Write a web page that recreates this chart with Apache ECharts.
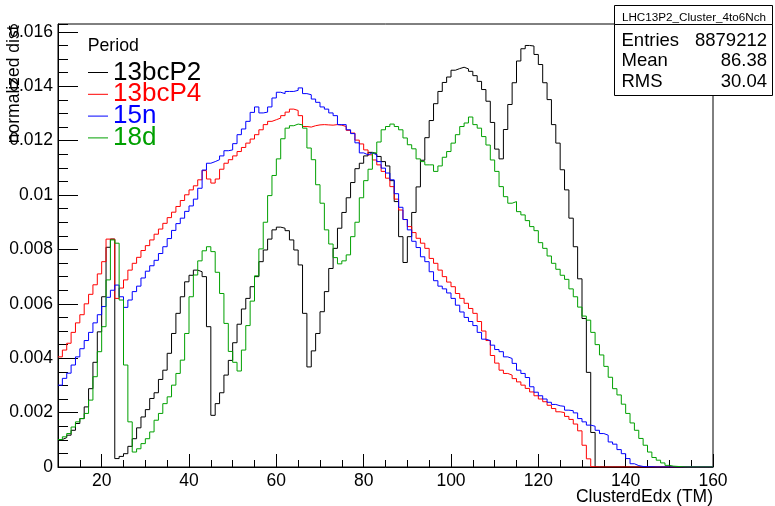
<!DOCTYPE html>
<html><head><meta charset="utf-8">
<script src="https://cdn.jsdelivr.net/npm/echarts@6/dist/echarts.min.js"></script>
<style>html,body{margin:0;padding:0;background:#fff}#c{width:775px;height:506px}</style>
</head><body><div id="c"></div>
<script>
// ---- data (bin contents in units of 1e-3, one value per 1-unit bin starting at 10) ----
const binLow = 10;
const binWidth = 1;
const valueUnit = 1e-3;
const seriesNames = ['13bcP2', '13bcP4', '15n', '18d'];

const v13bcP2 = [
 1.01,1.08,1.17,1.35,1.60,1.78,2.21,2.88,3.85,4.97,
 6.26,8.08,8.38,0.31,0.39,0.49,0.76,1.04,1.44,1.84,
 2.11,2.52,2.73,3.22,3.56,4.18,4.91,5.65,6.26,6.81,
 7.05,7.24,7.18,7.00,5.16,1.90,2.33,2.73,3.38,3.92,
 4.57,5.25,5.81,6.20,6.63,7.00,7.55,7.98,8.38,8.72,
 8.82,8.78,8.69,8.35,7.98,7.43,5.65,3.68,4.27,4.91,
 5.71,6.45,7.30,8.04,8.78,9.36,9.90,10.46,10.97,11.17,
 11.44,11.57,11.52,11.42,11.23,11.07,10.53,9.76,8.47,7.52,
 8.47,9.36,10.30,11.28,12.11,12.74,13.36,13.81,14.14,14.34,
 14.59,14.65,14.70,14.64,14.55,14.39,14.18,13.88,13.45,12.67,
 11.69,11.33,12.41,13.33,14.13,14.93,15.38,15.50,15.48,15.17,
 14.80,14.13,13.51,12.59,11.91,10.93,10.19,9.15,8.10,6.92,
 5.46,3.48,1.27,0,0,0,0,0,0,0,
 0,0,0,0,0,0,0,0,0,0,
 0,0,0,0,0,0,0,0,0,0
];
const v13bcP4 = [
 4.05,4.30,4.55,4.95,5.30,5.60,6.00,6.35,6.70,7.10,
 7.55,8.38,8.38,6.20,6.58,6.88,7.24,7.49,7.71,7.96,
 8.14,8.35,8.56,8.75,8.96,9.17,9.37,9.58,9.80,10.01,
 10.19,10.34,10.56,10.90,10.59,10.44,10.59,10.95,11.17,11.30,
 11.44,11.60,11.75,11.91,12.06,12.22,12.40,12.59,12.71,12.77,
 12.83,12.92,13.05,13.16,13.11,12.92,12.52,12.50,12.55,12.58,
 12.59,12.58,12.57,12.59,12.57,12.52,12.38,12.28,12.02,11.88,
 11.66,11.48,11.29,11.11,10.87,10.62,10.31,9.85,9.45,9.10,
 8.84,8.62,8.41,8.23,8.04,7.67,7.49,7.24,7.00,6.80,
 6.63,6.38,6.20,6.02,5.83,5.65,5.35,5.00,4.65,4.10,
 3.82,3.56,3.44,3.38,3.25,3.13,3.01,2.89,2.76,2.62,
 2.50,2.40,2.27,2.15,2.03,2.00,1.86,1.75,1.58,1.33,
 0.80,0.30,0.01,0,0,0,0,0,0,0,
 0,0,0,0,0,0,0,0,0,0,
 0,0,0,0,0,0,0,0,0,0
];
const v15n = [
 3.01,3.26,3.45,3.75,4.05,4.35,4.65,4.95,5.30,5.60,
 5.90,6.24,6.50,6.69,6.26,5.87,6.14,6.45,6.65,6.95,
 7.20,7.40,7.60,7.85,8.10,8.40,8.70,8.95,9.15,9.40,
 9.60,9.85,10.25,10.92,11.17,11.23,11.30,11.44,11.63,11.66,
 11.89,12.22,12.43,12.71,13.04,13.24,13.02,13.05,13.24,13.57,
 13.78,13.73,13.81,13.81,13.85,13.94,13.73,13.69,13.53,13.41,
 13.24,13.16,13.02,12.92,12.59,12.59,12.40,12.26,11.92,11.55,
 11.48,11.55,11.48,11.23,10.99,10.81,10.56,10.05,9.55,9.10,
 8.72,8.30,8.07,7.73,7.55,7.18,6.85,6.65,6.55,6.40,
 6.20,5.95,5.70,5.50,5.35,5.20,4.95,4.70,4.65,4.48,
 4.32,4.24,4.05,3.99,3.81,3.56,3.44,3.29,2.95,2.75,
 2.62,2.50,2.38,2.30,2.25,2.23,2.09,2.07,1.99,1.78,
 1.66,1.54,1.50,1.35,1.23,1.17,0.92,0.84,0.64,0.49,
 0.31,0.12,0.05,0.02,0.01,0.01,0,0,0,0,
 0,0,0,0,0,0,0,0,0,0
];
const v18d = [
 1.01,1.11,1.23,1.47,1.66,1.78,1.97,2.46,3.32,4.24,
 5.16,6.88,8.35,8.23,6.14,3.75,1.66,0.55,0.67,0.86,
 1.04,1.29,1.72,1.97,2.33,2.58,3.01,3.44,3.93,4.91,
 6.26,7.06,7.58,7.95,8.10,7.92,7.16,6.38,5.28,4.25,
 3.85,3.53,4.30,5.20,6.10,7.03,8.02,9.00,9.98,10.72,
 11.33,12.07,12.46,12.55,12.61,12.58,12.46,11.73,11.30,10.38,
 9.70,8.72,8.20,7.70,7.47,7.58,7.80,8.47,9.00,9.90,
 10.53,10.95,11.55,11.95,12.40,12.52,12.61,12.52,12.40,12.10,
 11.85,11.70,11.33,11.23,11.11,11.11,10.87,11.07,11.39,11.60,
 11.91,12.22,12.52,12.65,12.87,12.59,12.46,12.15,11.84,11.29,
 10.87,10.31,9.94,9.70,9.76,9.39,9.27,9.06,8.84,8.69,
 8.25,8.04,7.76,7.49,7.27,7.05,6.90,6.55,6.26,5.88,
 5.55,5.40,4.95,4.50,4.12,3.70,3.30,2.88,2.65,2.31,
 1.97,1.62,1.35,1.05,0.80,0.55,0.35,0.25,0.15,0.06,
 0.03,0.02,0.01,0,0,0,0,0,0,0
];

const xMin = 10, xMax = 160;
const yMax = 0.01629;
const xTickLabels = [20, 40, 60, 80, 100, 120, 140, 160];
const yTickLabels = [0, 0.002, 0.004, 0.006, 0.008, 0.010, 0.012, 0.014, 0.016];
const xTitle = 'ClusterdEdx (TM)';
const yTitle = 'normalized dist';
const legendTitle = 'Period';
const statsTitle = 'LHC13P2_Cluster_4to6Nch';
const statsNames = ['Entries', 'Mean', 'RMS'];
const statsValues = ['8879212', '86.38', '30.04'];

// ---- styles ----
const FONT = "'Liberation Sans', Arial, Helvetica, sans-serif";
const colors = ['#000000', '#ff0000', '#0000ff', '#00a000'];
const allVals = [v13bcP2, v13bcP4, v15n, v18d];

function toSteps(vals) {
  const d = vals.map((v, i) => [binLow + i * binWidth, v * valueUnit]);
  d.push([binLow + vals.length * binWidth, vals[vals.length - 1] * valueUnit]);
  return d;
}

const chart = echarts.init(document.getElementById('c'), null, {renderer: 'canvas'});
const G = {left: 58, right: 62, top: 24, bottom: 39};

const statsGraphics = [
  {type: 'rect', z: 100, shape: {x: 614.5, y: 5.5, width: 158, height: 19}, style: {fill: '#fff', stroke: '#000', lineWidth: 1}},
  {type: 'rect', z: 100, shape: {x: 614.5, y: 24.5, width: 158, height: 71}, style: {fill: '#fff', stroke: '#000', lineWidth: 1}},
  {type: 'text', z: 101, x: 694, y: 18, style: {text: statsTitle, fontSize: 11.7, fontFamily: FONT, fill: '#000', align: 'center', verticalAlign: 'middle'}}
];
const statsY = [40.5, 61.3, 81.8];
statsNames.forEach((n, i) => {
  statsGraphics.push({type: 'text', z: 101, x: 621.5, y: statsY[i], style: {text: n, fontSize: 18.5, fontFamily: FONT, fill: '#000', align: 'left', verticalAlign: 'middle'}});
  statsGraphics.push({type: 'text', z: 101, x: 767, y: statsY[i], style: {text: statsValues[i], fontSize: 18.5, fontFamily: FONT, fill: '#000', align: 'right', verticalAlign: 'middle'}});
});

const option = {
  animation: false,
  backgroundColor: '#fff',
  grid: {left: G.left, right: G.right, top: G.top, bottom: G.bottom, show: true, borderColor: '#000', borderWidth: 1, backgroundColor: 'transparent', containLabel: false},
  xAxis: [
    {type: 'value', min: xMin, max: xMax, interval: 5, position: 'bottom',
     axisLine: {show: true, onZero: false, lineStyle: {color: '#000', width: 1}},
     axisTick: {show: true, inside: true, length: 7, lineStyle: {color: '#000', width: 1}},
     axisLabel: {show: false}, splitLine: {show: false}},
    {type: 'value', min: xMin, max: xMax, position: 'bottom',
     axisLine: {show: false, onZero: false},
     axisTick: {show: true, inside: true, length: 13, customValues: xTickLabels, lineStyle: {color: '#000', width: 1}},
     axisLabel: {show: true, customValues: xTickLabels, fontSize: 17.5, fontFamily: FONT, color: '#000', margin: 5},
     splitLine: {show: false}}
  ],
  yAxis: [
    {type: 'value', min: 0, max: yMax, interval: 0.0005, position: 'left',
     axisLine: {show: true, onZero: false, lineStyle: {color: '#000', width: 1}},
     axisTick: {show: true, inside: true, length: 10, lineStyle: {color: '#000', width: 1}},
     axisLabel: {show: false}, splitLine: {show: false}},
    {type: 'value', min: 0, max: yMax, position: 'left',
     axisLine: {show: false, onZero: false},
     axisTick: {show: true, inside: true, length: 20, customValues: yTickLabels, lineStyle: {color: '#000', width: 1}},
     axisLabel: {show: true, customValues: yTickLabels, fontSize: 17.5, fontFamily: FONT, color: '#000', margin: 5,
       formatter: v => (v === 0 ? '0' : String(+(+v).toFixed(4)))},
     splitLine: {show: false}}
  ],
  legend: {
    orient: 'vertical', left: 83, top: 54.5, padding: 5, itemGap: -4.2,
    icon: 'rect', itemWidth: 20, itemHeight: 1,
    textStyle: {fontSize: 26, fontFamily: FONT, lineHeight: 21.2, padding: [0, 0, 0, 0]},
    data: seriesNames.map((n, i) => ({name: n, textStyle: {color: colors[i]}}))
  },
  graphic: [
    {type: 'text', x: 87.7, y: 46.3, style: {text: legendTitle, fontSize: 17.7, fontFamily: FONT, fill: '#000', align: 'left', verticalAlign: 'middle'}},
    {type: 'text', x: 713, y: 497, style: {text: xTitle, fontSize: 17.5, fontFamily: FONT, fill: '#000', align: 'right', verticalAlign: 'middle'}},
    {type: 'text', x: 14.4, y: 25.5, rotation: Math.PI / 2, style: {text: yTitle, fontSize: 17.5, fontFamily: FONT, fill: '#000', align: 'right', verticalAlign: 'middle'}}
  ].concat(statsGraphics),
  series: seriesNames.map((n, i) => ({
    name: n, type: 'line', step: 'end', xAxisIndex: 0, yAxisIndex: 0,
    data: toSteps(allVals[i]), symbol: 'none', showSymbol: false,
    lineStyle: {color: colors[i], width: 1}, itemStyle: {color: colors[i]},
    silent: true, z: 2 + i
  }))
};
chart.setOption(option);
</script>
</body></html>
